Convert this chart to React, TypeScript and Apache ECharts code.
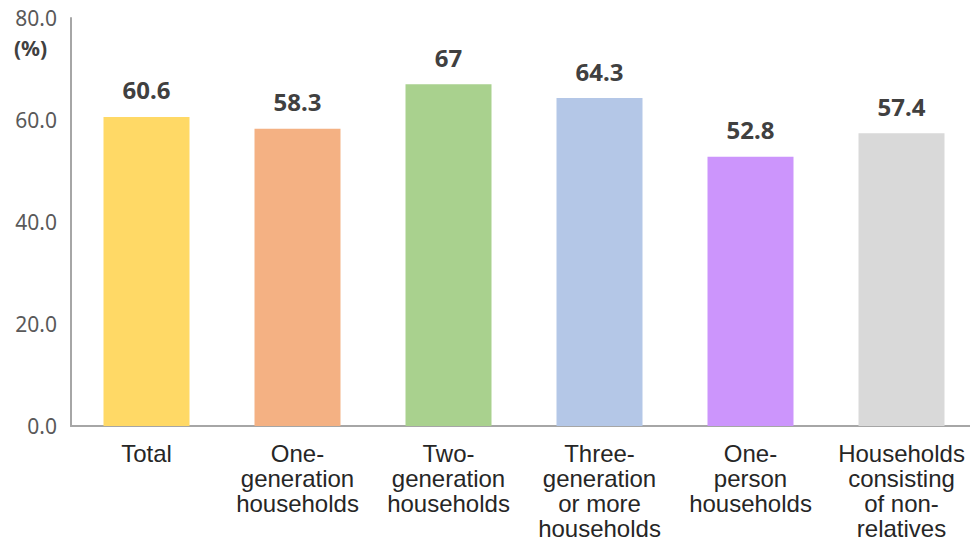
import React, { useEffect, useRef } from "react";
import * as echarts from "echarts";

const categories = [
  "Total",
  "One-\ngeneration\nhouseholds",
  "Two-\ngeneration\nhouseholds",
  "Three-\ngeneration\nor more\nhouseholds",
  "One-\nperson\nhouseholds",
  "Households\nconsisting\nof non-\nrelatives",
];
const values = [60.6, 58.3, 67, 64.3, 52.8, 57.4];
const valueLabels = ["60.6", "58.3", "67", "64.3", "52.8", "57.4"];
const colors = ["#FFD966", "#F4B183", "#A9D18E", "#B4C7E7", "#CC95FC", "#D9D9D9"];

export default function App() {
  const ref = useRef<HTMLDivElement>(null);
  useEffect(() => {
    if (!ref.current) return;
    const chart = echarts.init(ref.current, undefined, { renderer: "svg" });
    chart.setOption({
      animation: false,
      grid: { left: 71, right: 0, top: 18, bottom: 118 },
      graphic: [
        {
          type: "text",
          left: 14,
          top: 37,
          style: {
            text: "(%)",
            font: "bold 21px 'Noto Sans'",
            fill: "#404040",
          },
        },
      ],
      xAxis: {
        type: "category",
        data: categories,
        axisLine: { lineStyle: { color: "#A6A6A6", width: 2 } },
        axisTick: { show: false },
        axisLabel: {
          interval: 0,
          margin: 15,
          color: "#262626",
          fontFamily: "'Liberation Sans', Arial, sans-serif",
          fontSize: 24,
          lineHeight: 25,
          align: "center",
        },
      },
      yAxis: {
        type: "value",
        min: 0,
        max: 80,
        interval: 20,
        axisLine: { show: true, lineStyle: { color: "#A6A6A6", width: 2 } },
        axisTick: { show: false },
        splitLine: { show: false },
        axisLabel: {
          margin: 14,
          color: "#595959",
          fontFamily: "'Noto Sans', sans-serif",
          fontSize: 21,
          formatter: (v: number) => v.toFixed(1),
        },
      },
      series: [
        {
          type: "bar",
          barWidth: 86,
          data: values.map((v, i) => ({
            value: v,
            itemStyle: { color: colors[i] },
            label: { formatter: valueLabels[i] },
          })),
          label: {
            show: true,
            position: "top",
            distance: 15,
            color: "#404040",
            fontFamily: "'Noto Sans', sans-serif",
            fontWeight: "bold",
            fontSize: 24,
          },
        },
      ],
    });
    return () => chart.dispose();
  }, []);
  return (
    <div
      style={{
        position: "absolute",
        left: 0,
        top: 0,
        width: 970,
        height: 544,
        overflow: "hidden",
      }}
    >
      <div ref={ref} style={{ width: 977, height: 544 }} />
    </div>
  );
}
